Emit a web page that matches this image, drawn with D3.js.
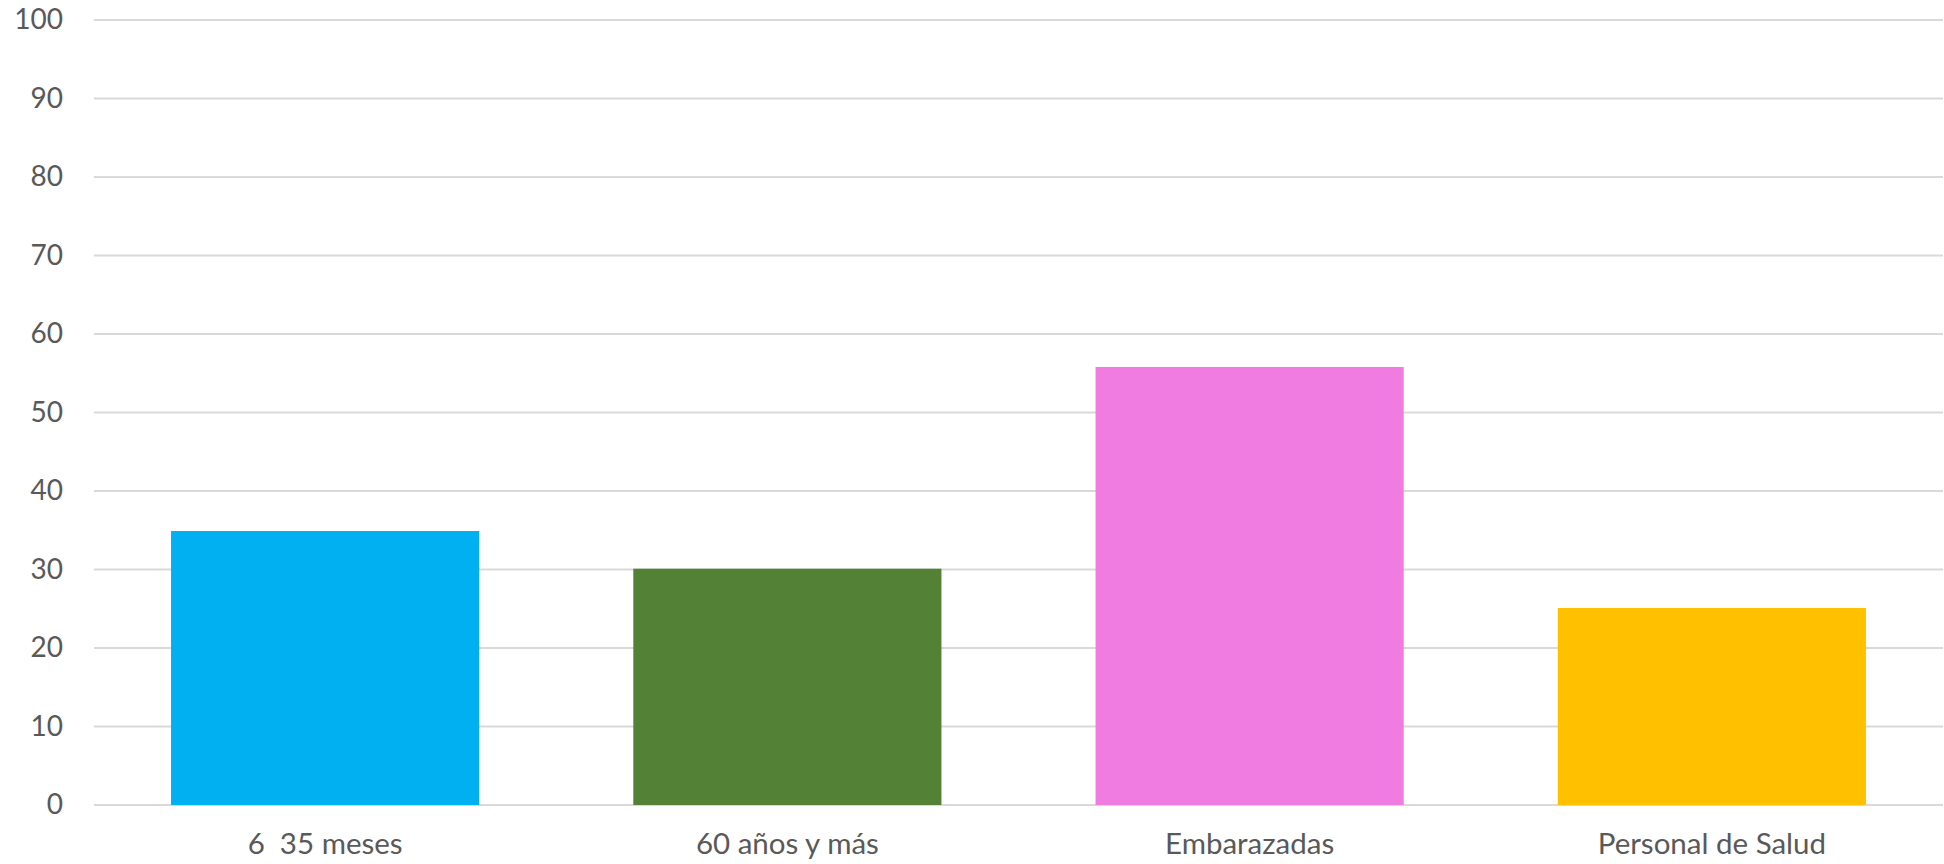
<!DOCTYPE html>
<html>
<head>
<meta charset="utf-8">
<script src="https://cdn.jsdelivr.net/npm/d3@7"></script>
<style>
  body { margin: 0; background: #fff; }
  text { font-family: Lato, "Open Sans", sans-serif; fill: #595959; white-space: pre; }
</style>
</head>
<body>
<div id="chart"></div>
<script>
// Data
const categories = ["6  35 meses", "60 años y más", "Embarazadas", "Personal de Salud"];
const values = [34.9, 30.1, 55.8, 25.1];
const barColors = ["#00B0F0", "#538135", "#F07BE1", "#FFC000"];
const yTicks = [0, 10, 20, 30, 40, 50, 60, 70, 80, 90, 100];

const width = 1944;
const height = 864;
const margin = { top: 20, right: 1, bottom: 59, left: 94 };

const svg = d3.select("#chart").append("svg")
  .attr("width", width)
  .attr("height", height);

const x = d3.scaleBand()
  .domain(categories)
  .range([margin.left, width - margin.right])
  .paddingInner(1 / 3)
  .paddingOuter(1 / 6);

const y = d3.scaleLinear()
  .domain([0, 100])
  .range([height - margin.bottom, margin.top]);

// gridlines
svg.append("g")
  .selectAll("line")
  .data(yTicks)
  .enter()
  .append("line")
  .attr("x1", margin.left)
  .attr("x2", width - margin.right)
  .attr("y1", d => y(d))
  .attr("y2", d => y(d))
  .attr("stroke", "#D9D9D9")
  .attr("stroke-width", 2);

// y axis labels
const yAxis = svg.append("g")
  .attr("transform", `translate(${margin.left},0)`)
  .call(d3.axisLeft(y).tickValues(yTicks).tickSize(0).tickPadding(31));
yAxis.select(".domain").remove();
yAxis.selectAll("text")
  .style("font-size", "28px")
  .attr("fill", "#595959");

// bars
svg.selectAll("rect.bar")
  .data(categories)
  .enter()
  .append("rect")
  .attr("class", "bar")
  .attr("x", d => x(d))
  .attr("y", (d, i) => y(values[i]))
  .attr("width", x.bandwidth())
  .attr("height", (d, i) => y(0) - y(values[i]))
  .attr("fill", (d, i) => barColors[i]);

// x axis labels
const xAxis = svg.append("g")
  .attr("transform", `translate(0,${y(0)})`)
  .call(d3.axisBottom(x).tickSize(0).tickPadding(28));
xAxis.select(".domain").remove();
xAxis.selectAll("text")
  .style("font-size", "29.5px")
  .attr("fill", "#595959");
</script>
</body>
</html>
